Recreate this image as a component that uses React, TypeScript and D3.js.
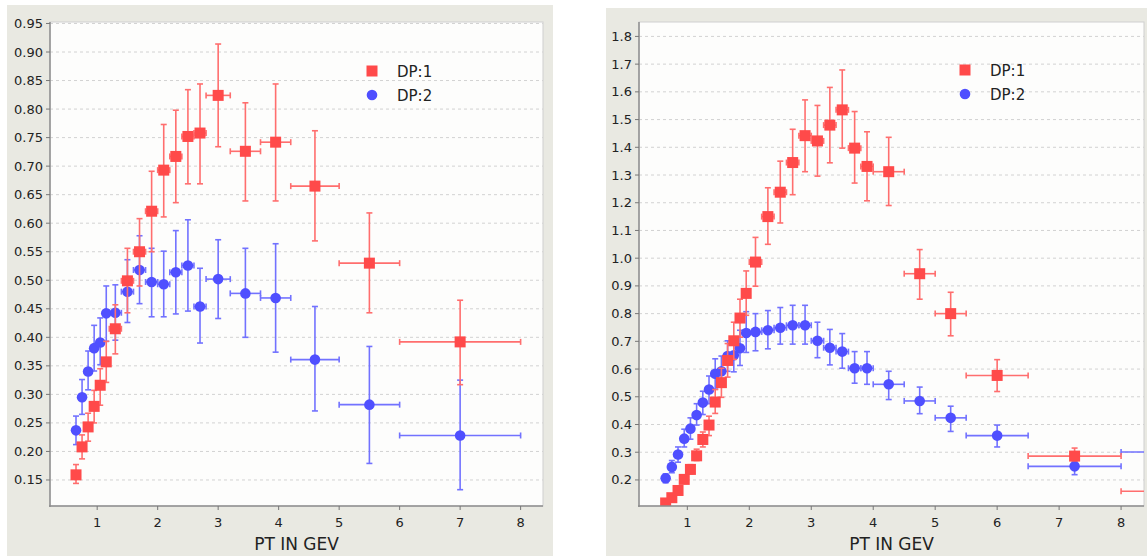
import React from "react";
import * as d3 from "d3";

// ---------- data ----------
const X_TICKS = [1, 2, 3, 4, 5, 6, 7, 8];
const LEFT_Y_TICKS = [0.15, 0.2, 0.25, 0.3, 0.35, 0.4, 0.45, 0.5, 0.55, 0.6, 0.65, 0.7, 0.75, 0.8, 0.85, 0.9, 0.95];
const RIGHT_Y_TICKS = [0.2, 0.3, 0.4, 0.5, 0.6, 0.7, 0.8, 0.9, 1.0, 1.1, 1.2, 1.3, 1.4, 1.5, 1.6, 1.7, 1.8];
const SERIES_NAMES = ["DP:1", "DP:2"];

const leftX = [0.65, 0.75, 0.85, 0.95, 1.05, 1.15, 1.3, 1.5, 1.7, 1.9, 2.1, 2.3, 2.5, 2.7, 3.0, 3.45, 3.95, 4.6, 5.5, 7.0];
const leftXErr = [0.05, 0.05, 0.05, 0.05, 0.05, 0.05, 0.1, 0.1, 0.1, 0.1, 0.1, 0.1, 0.1, 0.1, 0.2, 0.25, 0.25, 0.4, 0.5, 1.0];
const leftRedY = [0.159, 0.208, 0.243, 0.279, 0.316, 0.357, 0.415, 0.499, 0.55, 0.621, 0.693, 0.717, 0.752, 0.758, 0.824, 0.726, 0.742, 0.665, 0.53, 0.392];
const leftRedHi = [0.177, 0.229, 0.267, 0.307, 0.345, 0.393, 0.457, 0.556, 0.608, 0.691, 0.773, 0.798, 0.834, 0.844, 0.914, 0.811, 0.844, 0.762, 0.618, 0.465];
const leftRedLo = [0.144, 0.187, 0.218, 0.25, 0.281, 0.321, 0.371, 0.443, 0.49, 0.55, 0.611, 0.636, 0.669, 0.669, 0.734, 0.639, 0.639, 0.569, 0.443, 0.317];
const leftBlueY = [0.237, 0.295, 0.34, 0.381, 0.391, 0.442, 0.443, 0.48, 0.518, 0.497, 0.493, 0.514, 0.526, 0.454, 0.502, 0.477, 0.469, 0.361, 0.282, 0.228];
const leftBlueHi = [0.262, 0.326, 0.376, 0.421, 0.434, 0.49, 0.492, 0.536, 0.578, 0.556, 0.551, 0.587, 0.606, 0.521, 0.571, 0.556, 0.564, 0.454, 0.384, 0.325];
const leftBlueLo = [0.212, 0.265, 0.308, 0.341, 0.352, 0.393, 0.395, 0.426, 0.459, 0.436, 0.436, 0.441, 0.446, 0.39, 0.433, 0.4, 0.374, 0.271, 0.179, 0.133];

const rightX = [0.65, 0.75, 0.85, 0.95, 1.05, 1.15, 1.25, 1.35, 1.45, 1.55, 1.65, 1.75, 1.85, 1.95, 2.1, 2.3, 2.5, 2.7, 2.9, 3.1, 3.3, 3.5, 3.7, 3.9, 4.25, 4.75, 5.25, 6.0, 7.25, 9.0];
const rightXErr = [0.05, 0.05, 0.05, 0.05, 0.05, 0.05, 0.05, 0.05, 0.05, 0.05, 0.05, 0.05, 0.05, 0.05, 0.1, 0.1, 0.1, 0.1, 0.1, 0.1, 0.1, 0.1, 0.1, 0.1, 0.25, 0.25, 0.25, 0.5, 0.75, 1.0];
const rightRedY = [0.117, 0.136, 0.162, 0.202, 0.238, 0.287, 0.346, 0.398, 0.481, 0.551, 0.631, 0.702, 0.784, 0.873, 0.986, 1.15, 1.238, 1.345, 1.442, 1.423, 1.48, 1.535, 1.397, 1.331, 1.312, 0.944, 0.8, 0.577, 0.286, 0.159];
const rightRedHi = [0.125, 0.145, 0.175, 0.218, 0.255, 0.311, 0.373, 0.43, 0.526, 0.603, 0.692, 0.769, 0.852, 0.954, 1.075, 1.254, 1.35, 1.465, 1.571, 1.551, 1.616, 1.679, 1.529, 1.456, 1.436, 1.031, 0.877, 0.634, 0.315, 0.165];
const rightRedLo = [0.11, 0.128, 0.15, 0.188, 0.222, 0.27, 0.319, 0.36, 0.44, 0.498, 0.571, 0.635, 0.715, 0.794, 0.899, 1.05, 1.127, 1.229, 1.312, 1.296, 1.344, 1.397, 1.271, 1.207, 1.19, 0.852, 0.72, 0.519, 0.27, 0.153];
const rightBlueY = [0.206, 0.247, 0.292, 0.349, 0.385, 0.434, 0.479, 0.526, 0.583, 0.592, 0.647, 0.65, 0.675, 0.73, 0.734, 0.74, 0.749, 0.758, 0.758, 0.702, 0.677, 0.663, 0.603, 0.603, 0.545, 0.485, 0.424, 0.36, 0.249, 0.301];
const rightBlueHi = [0.222, 0.27, 0.319, 0.383, 0.424, 0.475, 0.52, 0.575, 0.637, 0.647, 0.702, 0.709, 0.74, 0.807, 0.8, 0.811, 0.822, 0.83, 0.83, 0.769, 0.743, 0.728, 0.663, 0.663, 0.592, 0.535, 0.466, 0.398, 0.268, 0.31];
const rightBlueLo = [0.19, 0.226, 0.264, 0.319, 0.347, 0.398, 0.436, 0.475, 0.528, 0.539, 0.592, 0.59, 0.613, 0.66, 0.666, 0.673, 0.69, 0.69, 0.69, 0.641, 0.615, 0.603, 0.549, 0.545, 0.49, 0.439, 0.375, 0.319, 0.219, 0.292];

// ---------- style ----------
const FONT = "'DejaVu Sans', Verdana, sans-serif";
const RED = "#ff4a4a";
const RED_ERR = "#ff6e6e";
const BLUE = "#4f4fff";
const BLUE_ERR = "#7272ff";
const PANEL_BG = "#e9e9e2";

type Series = { x: number[]; xe: number[]; y: number[]; hi: number[]; lo: number[] };

type PanelProps = {
  id: string;
  bg: { x: number; y: number; w: number; h: number };
  plot: { l: number; r: number; t: number; b: number };
  yDomain: [number, number];
  yTicks: number[];
  yFmt: (v: number) => string;
  red: Series;
  blue: Series;
  legend: { x: number; y: number };
};

function ErrorPoints({ s, xs, ys, color, errColor, shape }: any) {
  const cap = 3;
  return (
    <g>
      {s.x.map((xv: number, i: number) => {
        const cx = xs(xv);
        const cy = ys(s.y[i]);
        const x1 = xs(xv - s.xe[i]);
        const x2 = xs(xv + s.xe[i]);
        const yh = ys(s.hi[i]);
        const yl = ys(s.lo[i]);
        return (
          <g key={i} stroke={errColor} strokeWidth={1.6} fill="none">
            <line x1={cx} x2={cx} y1={yh} y2={yl} />
            <line x1={cx - cap} x2={cx + cap} y1={yh} y2={yh} />
            <line x1={cx - cap} x2={cx + cap} y1={yl} y2={yl} />
            <line x1={x1} x2={x2} y1={cy} y2={cy} />
            <line x1={x1} x2={x1} y1={cy - cap} y2={cy + cap} />
            <line x1={x2} x2={x2} y1={cy - cap} y2={cy + cap} />
          </g>
        );
      })}
      {s.x.map((xv: number, i: number) => {
        const cx = xs(xv);
        const cy = ys(s.y[i]);
        return shape === "square" ? (
          <rect key={"m" + i} x={cx - 5.5} y={cy - 5.5} width={11} height={11} fill={color} />
        ) : (
          <circle key={"m" + i} cx={cx} cy={cy} r={5.3} fill={color} />
        );
      })}
    </g>
  );
}

function Panel(p: PanelProps) {
  const xs = d3.scaleLinear().domain([0.22, 8.37]).range([p.plot.l, p.plot.r]);
  const ys = d3.scaleLinear().domain(p.yDomain).range([p.plot.b, p.plot.t]);
  const { l, r, t, b } = p.plot;
  return (
    <g>
      <rect x={p.bg.x} y={p.bg.y} width={p.bg.w} height={p.bg.h} fill={PANEL_BG} />
      <rect x={l} y={t} width={r - l} height={b - t} fill="#fdfdfc" stroke="#cfcfcf" strokeWidth={1} />
      <defs>
        <clipPath id={p.id}>
          <rect x={l} y={t} width={r - l} height={b - t} />
        </clipPath>
      </defs>
      {p.yTicks.map((v) => (
        <line key={"g" + v} x1={l} x2={r} y1={ys(v)} y2={ys(v)} stroke="#d2d2d2" strokeWidth={1} strokeDasharray="3,3" />
      ))}
      <g clipPath={`url(#${p.id})`}>
        <ErrorPoints s={p.blue} xs={xs} ys={ys} color={BLUE} errColor={BLUE_ERR} shape="circle" />
        <ErrorPoints s={p.red} xs={xs} ys={ys} color={RED} errColor={RED_ERR} shape="square" />
      </g>
      <line x1={l} x2={l} y1={t} y2={b + 1} stroke="#8e8e8e" strokeWidth={1.5} />
      <line x1={l - 1} x2={r} y1={b} y2={b} stroke="#8e8e8e" strokeWidth={1.5} />
      {p.yTicks.map((v) => (
        <g key={"yt" + v}>
          <line x1={l - 4} x2={l} y1={ys(v)} y2={ys(v)} stroke="#777" strokeWidth={1} />
          <text x={l - 7} y={ys(v) + 4.5} textAnchor="end" fontSize={13} fontFamily={FONT} fill="#222">
            {p.yFmt(v)}
          </text>
        </g>
      ))}
      {X_TICKS.map((v) => (
        <g key={"xt" + v}>
          <line x1={xs(v)} x2={xs(v)} y1={b} y2={b + 4} stroke="#777" strokeWidth={1} />
          <text x={xs(v)} y={b + 21} textAnchor="middle" fontSize={13} fontFamily={FONT} fill="#222">
            {v}
          </text>
        </g>
      ))}
      <text x={(l + r) / 2} y={550} textAnchor="middle" fontSize={17} fontFamily={FONT} fill="#222">
        PT IN GEV
      </text>
      <g>
        <rect x={p.legend.x - 5.5} y={p.legend.y - 5.5} width={11} height={11} fill={RED} />
        <text x={p.legend.x + 25} y={p.legend.y + 5.5} fontSize={15} fontFamily={FONT} fill="#222">
          {SERIES_NAMES[0]}
        </text>
        <circle cx={p.legend.x} cy={p.legend.y + 24} r={5.3} fill={BLUE} />
        <text x={p.legend.x + 25} y={p.legend.y + 29.5} fontSize={15} fontFamily={FONT} fill="#222">
          {SERIES_NAMES[1]}
        </text>
      </g>
    </g>
  );
}

export default function App() {
  return (
    <svg
      width={1147}
      height={556}
      style={{ position: "absolute", left: 0, top: 0, display: "block", background: "#ffffff" }}
    >
      <Panel
        id="clipL"
        bg={{ x: 7, y: 5, w: 546, h: 551 }}
        plot={{ l: 50, r: 543, t: 22, b: 506 }}
        yDomain={[0.1044, 0.9526]}
        yTicks={LEFT_Y_TICKS}
        yFmt={(v) => d3.format(".2f")(v)}
        red={{ x: leftX, xe: leftXErr, y: leftRedY, hi: leftRedHi, lo: leftRedLo }}
        blue={{ x: leftX, xe: leftXErr, y: leftBlueY, hi: leftBlueHi, lo: leftBlueLo }}
        legend={{ x: 372, y: 71 }}
      />
      <Panel
        id="clipR"
        bg={{ x: 606, y: 8, w: 541, h: 548 }}
        plot={{ l: 639, r: 1144, t: 22, b: 506 }}
        yDomain={[0.106, 1.852]}
        yTicks={RIGHT_Y_TICKS}
        yFmt={(v) => d3.format(".1f")(v)}
        red={{ x: rightX, xe: rightXErr, y: rightRedY, hi: rightRedHi, lo: rightRedLo }}
        blue={{ x: rightX, xe: rightXErr, y: rightBlueY, hi: rightBlueHi, lo: rightBlueLo }}
        legend={{ x: 965, y: 70 }}
      />
    </svg>
  );
}
